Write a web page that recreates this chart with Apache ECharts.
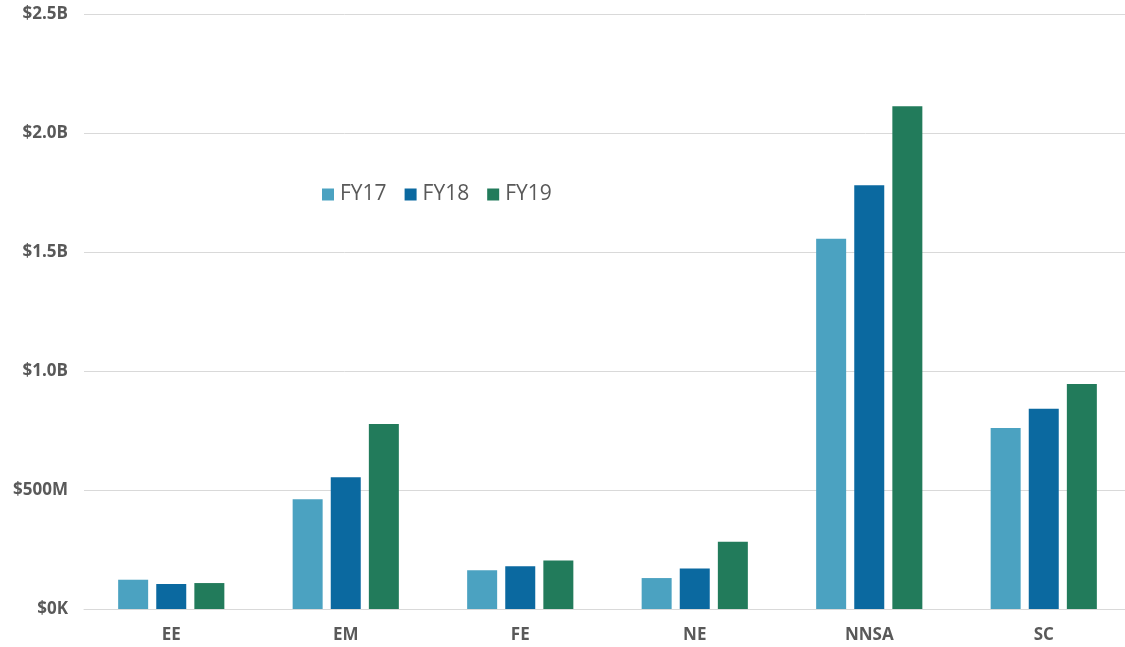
<!DOCTYPE html>
<html>
<head>
<meta charset="utf-8">
<script src="https://cdn.jsdelivr.net/npm/echarts@6/dist/echarts.min.js"></script>
<style>
html,body{margin:0;padding:0;background:#fff;}
#chart{width:1125px;height:647px;}
</style>
</head>
<body>
<div id="chart"></div>
<script>
// values in millions of dollars
const categories = ['EE', 'EM', 'FE', 'NE', 'NNSA', 'SC'];
const seriesNames = ['FY17', 'FY18', 'FY19'];
const fy17 = [123, 461, 163, 130, 1556, 760];
const fy18 = [105, 554, 180, 170, 1780, 841];
const fy19 = [109, 777, 204, 283, 2112, 945];
const yTicks = [0, 500, 1000, 1500, 2000, 2500];
const colors = ['#4BA2C1', '#0B69A0', '#227B5B'];

const chart = echarts.init(document.getElementById('chart'));
const dataSets = [fy17, fy18, fy19];
function fmt(v) {
  if (v === 0) return '$0K';
  if (v < 1000) return '$' + v + 'M';
  return '$' + (v / 1000).toFixed(1) + 'B';
}
chart.setOption({
  animation: false,
  backgroundColor: '#ffffff',
  grid: { left: 84, top: 14, right: -6, bottom: 38, containLabel: false, outerBoundsMode: 'none' },
  legend: {
    data: seriesNames,
    left: 317, top: 179,
    icon: 'rect', itemWidth: 12, itemHeight: 12, itemGap: 18,
    textStyle: { fontFamily: 'Open Sans', fontSize: 21, color: '#595959', padding: [0, 0, 0, 1] }
  },
  xAxis: {
    type: 'category',
    data: categories,
    axisLine: { show: true, lineStyle: { color: '#d9d9d9', width: 1 } },
    axisTick: { show: false },
    axisLabel: { fontFamily: 'Open Sans', fontWeight: 'bold', fontSize: 17, color: '#595959', margin: 18 }
  },
  yAxis: {
    type: 'value',
    min: yTicks[0], max: yTicks[yTicks.length - 1], interval: 500,
    axisLine: { show: false },
    axisTick: { show: false },
    splitLine: { lineStyle: { color: '#d9d9d9', width: 1 } },
    axisLabel: { fontFamily: 'Open Sans', fontWeight: 'bold', fontSize: 17, color: '#595959', margin: 16, formatter: fmt }
  },
  series: seriesNames.map((n, i) => ({
    name: n,
    type: 'bar',
    data: dataSets[i],
    barWidth: 30,
    barGap: '27%',
    itemStyle: { color: colors[i] }
  }))
});
</script>
</body>
</html>
